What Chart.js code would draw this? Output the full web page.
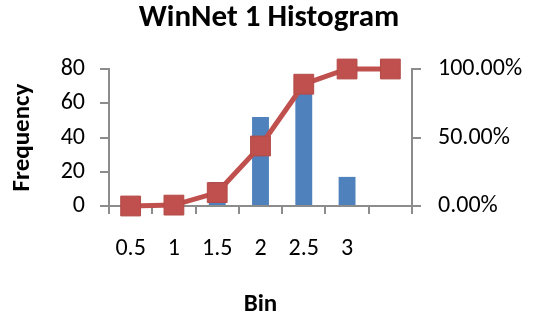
<!DOCTYPE html>
<html>
<head>
<meta charset="utf-8">
<title>WinNet 1 Histogram</title>
<script src="https://cdn.jsdelivr.net/npm/chart.js@4.4.1/dist/chart.umd.min.js"></script>
<style>
    html, body { margin: 0; padding: 0; background: #fff; }
    #wrap { width: 538px; height: 320px; }
</style>
</head>
<body>
<div id="wrap"><canvas id="histChart" width="538" height="320"></canvas></div>
<script>
// histogram bins and counts
const bins = ['0.5', '1', '1.5', '2', '2.5', '3', ''];
const frequency = [0, 1, 14, 52, 69, 17, 0];
// cumulative share of all values, 0..1
const cumulative = [0, 0.0065, 0.098, 0.438, 0.889, 1, 1];
const freqTicks = [0, 20, 40, 60, 80];
const pctTicks = [0, 0.5, 1];

const FONT = "Carlito, Lato, 'Liberation Sans', sans-serif";
const AXIS_GREY = '#8c8c8c';

Chart.defaults.font.family = FONT;
Chart.defaults.color = '#000';

function fixWidth(w) {
    return function(scale) { scale.width = w; };
}

const ctx = document.getElementById('histChart').getContext('2d');
const histChart = new Chart(ctx, {
    data: {
        labels: bins,
        datasets: [{
            type: 'line',
            label: 'Cumulative %',
            data: cumulative,
            yAxisID: 'y1',
            borderColor: '#C0504D',
            borderWidth: 5,
            backgroundColor: '#C0504D',
            pointStyle: 'rect',
            pointRadius: 14,
            pointBorderColor: '#B44A47',
            pointBorderWidth: 1,
            pointBackgroundColor: '#C0504D',
            tension: 0,
            clip: false,
            order: 0
        }, {
            type: 'bar',
            label: 'Frequency',
            data: frequency,
            yAxisID: 'y',
            backgroundColor: '#4F81BD',
            barPercentage: 0.39,
            categoryPercentage: 1,
            order: 1
        }]
    },
    options: {
        responsive: false,
        animation: false,
        layout: { padding: 0 },
        plugins: {
            legend: { display: false },
            tooltip: { enabled: false },
            title: {
                display: true,
                text: 'WinNet 1 Histogram',
                font: { size: 31, weight: 'bold' },
                padding: { top: 0, bottom: 31.8 }
            }
        },
        scales: {
            x: {
                offset: true,
                grid: {
                    display: true,
                    offset: true,
                    drawOnChartArea: false,
                    drawTicks: true,
                    tickLength: 8,
                    color: AXIS_GREY,
                    lineWidth: 2
                },
                border: { display: true, color: AXIS_GREY, width: 2 },
                ticks: { font: { size: 24 }, padding: 21, maxRotation: 0, autoSkip: false },
                title: {
                    display: true,
                    text: 'Bin',
                    font: { size: 25, weight: 'bold' },
                    padding: { top: 2, bottom: 0 }
                },
                afterFit: function(scale) { scale.height = 114; }
            },
            y: {
                position: 'left',
                min: 0,
                max: 80,
                afterBuildTicks: function(scale) {
                    scale.ticks = freqTicks.map(v => ({ value: v }));
                },
                grid: {
                    display: true,
                    drawOnChartArea: false,
                    drawTicks: true,
                    tickLength: 9,
                    color: AXIS_GREY,
                    lineWidth: 2
                },
                border: { display: true, color: AXIS_GREY, width: 2 },
                ticks: { font: { size: 24 }, padding: 15 },
                title: {
                    display: true,
                    text: 'Frequency',
                    font: { size: 25, weight: 'bold' },
                    padding: { top: 8, bottom: 0 }
                },
                afterFit: fixWidth(109)
            },
            y1: {
                position: 'right',
                min: 0,
                max: 1,
                afterBuildTicks: function(scale) {
                    scale.ticks = pctTicks.map(v => ({ value: v }));
                },
                grid: {
                    display: true,
                    drawOnChartArea: false,
                    drawTicks: true,
                    tickLength: 9,
                    color: AXIS_GREY,
                    lineWidth: 2
                },
                border: { display: true, color: AXIS_GREY, width: 2 },
                ticks: {
                    font: { size: 24 },
                    padding: 17,
                    callback: function(v) { return (v * 100).toFixed(2) + '%'; }
                },
                afterFit: fixWidth(126)
            }
        }
    }
});
</script>
</body>
</html>
